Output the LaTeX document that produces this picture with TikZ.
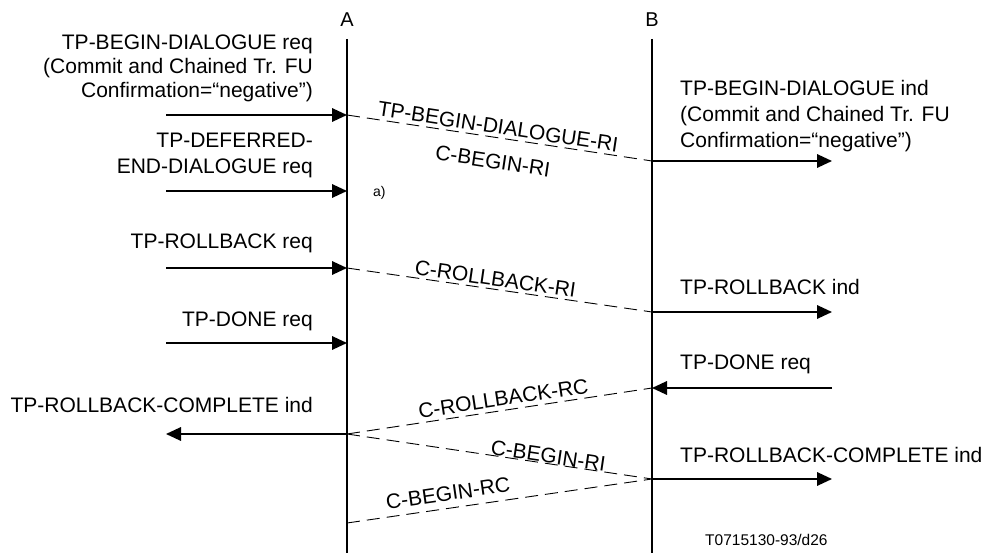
\documentclass[tikz,border=0pt]{standalone}
\usepackage{fontspec}
\setmainfont{Liberation Sans}
\usetikzlibrary{arrows.meta}
\begin{document}
\begin{tikzpicture}[x=1pt,y=-1pt,
  lbl/.style={font=\fontsize{21}{24}\selectfont, inner sep=0pt},
  lifeline/.style={line width=1.6pt},
  msg/.style={line width=1.8pt, -{Triangle[length=15pt,width=13.5pt]}},
  pdu/.style={line width=0.9pt, dash pattern=on 13pt off 7pt},
  plbl/.style={font=\fontsize{21}{24}\selectfont, inner sep=0pt, sloped}
]
\useasboundingbox (0,0) rectangle (986,553);

% lifelines
\node[lbl, font=\fontsize{20}{24}\selectfont] (A) at (347,20) {A};
\node[lbl, font=\fontsize{20}{24}\selectfont] (B) at (652,20) {B};
\coordinate (Atop) at (347,39);
\coordinate (Abot) at (347,553);
\coordinate (Btop) at (652,39);
\coordinate (Bbot) at (652,553);
\draw[lifeline] (Atop) -- (Abot);
\draw[lifeline] (Btop) -- (Bbot);

% points on lifelines
\coordinate (a1) at (347,115);
\coordinate (a2) at (347,191);
\coordinate (a3) at (347,268);
\coordinate (a4) at (347,343);
\coordinate (a5) at (347,434);
\coordinate (a6) at (347,523);
\coordinate (b1) at (652,161);
\coordinate (b2) at (652,312);
\coordinate (b3) at (652,388);
\coordinate (b4) at (652,479);
% free ends
\coordinate (l1) at (166,115);
\coordinate (l2) at (166,191);
\coordinate (l3) at (166,268);
\coordinate (l4) at (166,343);
\coordinate (l5) at (166,434);
\coordinate (r1) at (832,161);
\coordinate (r2) at (832,312);
\coordinate (r3) at (832,388);
\coordinate (r4) at (832,479);

% primitives at A
\node[lbl, align=right, anchor=north east] (t1) at (313,35)
  {TP-BEGIN-DIALOGUE req\\(Commit and Chained Tr. FU\\Confirmation=“negative”)};
\draw[msg] (l1) -- (a1);
\node[lbl, align=right, anchor=north east] (t2) at (313,133)
  {TP-DEFERRED-\\[2pt]END-DIALOGUE req};
\draw[msg] (l2) -- (a2);
\node[lbl, font=\fontsize{14}{16}\selectfont, anchor=base west] (note) at (373,197) {a)};
\node[lbl, anchor=base east] (t3) at (313,249) {TP-ROLLBACK req};
\draw[msg] (l3) -- (a3);
\node[lbl, anchor=base east] (t4) at (313,327) {TP-DONE req};
\draw[msg] (l4) -- (a4);
\node[lbl, anchor=base east] (t5) at (313,413) {TP-ROLLBACK-COMPLETE ind};
\draw[msg] (a5) -- (l5);

% primitives at B
\node[lbl, align=left, anchor=north west] (u1) at (680,80)
  {TP-BEGIN-DIALOGUE ind\\[2pt](Commit and Chained Tr. FU\\[2pt]Confirmation=“negative”)};
\draw[msg] (b1) -- (r1);
\node[lbl, anchor=base west] (u2) at (680,295) {TP-ROLLBACK ind};
\draw[msg] (b2) -- (r2);
\node[lbl, anchor=base west] (u3) at (680,370) {TP-DONE req};
\draw[msg] (r3) -- (b3);
\node[lbl, anchor=base west] (u4) at (680,462) {TP-ROLLBACK-COMPLETE ind};
\draw[msg] (b4) -- (r4);

% PDUs
\draw[pdu] (a1) -- node[plbl, pos=0.49, above=3pt] (p1) {TP-BEGIN-DIALOGUE-RI}
                  node[plbl, pos=0.49, below=16pt] (p1b) {C-BEGIN-RI} (b1);
\draw[pdu] (a3) -- node[plbl, pos=0.482, above=2.5pt] (p2) {C-ROLLBACK-RI} (b2);
\draw[pdu] (a5) -- node[plbl, pos=0.518, above=4pt] (p3) {C-ROLLBACK-RC} (b3);
\draw[pdu] (a5) -- node[plbl, pos=0.656, above=0pt] (p4) {C-BEGIN-RI} (b4);
\draw[pdu] (a6) -- node[plbl, pos=0.338, above=7pt] (p5) {C-BEGIN-RC} (b4);

\node[lbl, font=\fontsize{15.5}{18}\selectfont, anchor=base west] (ref) at (705,545) {T0715130-93/d26};
\end{tikzpicture}
\end{document}
